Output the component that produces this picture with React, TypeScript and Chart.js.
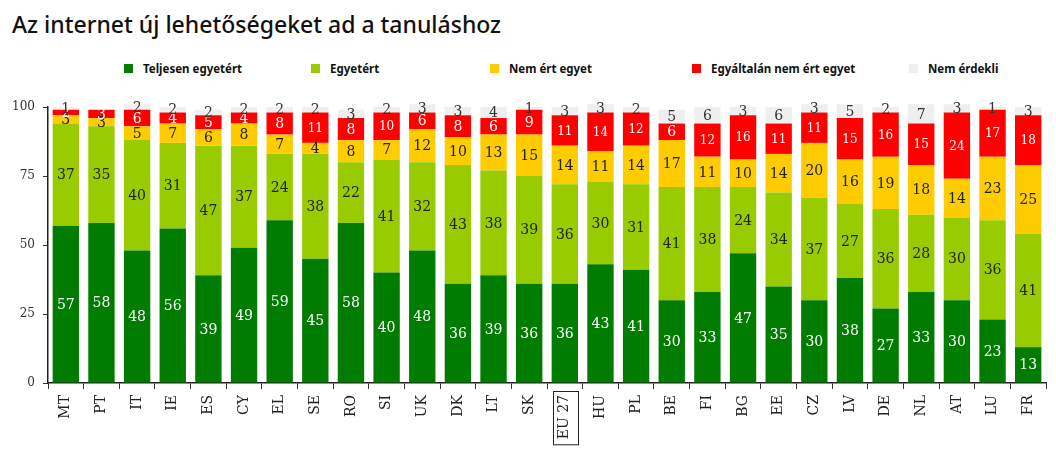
import React, { useEffect, useRef } from 'react';
import { Chart, registerables } from 'chart.js';

Chart.register(...registerables);

const categories = ['MT', 'PT', 'IT', 'IE', 'ES', 'CY', 'EL', 'SE', 'RO', 'SI', 'UK', 'DK', 'LT', 'SK', 'EU 27', 'HU', 'PL', 'BE', 'FI', 'BG', 'EE', 'CZ', 'LV', 'DE', 'NL', 'AT', 'LU', 'FR'];
const teljesen = [57, 58, 48, 56, 39, 49, 59, 45, 58, 40, 48, 36, 39, 36, 36, 43, 41, 30, 33, 47, 35, 30, 38, 27, 33, 30, 23, 13];
const egyetert = [37, 35, 40, 31, 47, 37, 24, 38, 22, 41, 32, 43, 38, 39, 36, 30, 31, 41, 38, 24, 34, 37, 27, 36, 28, 30, 36, 41];
const nemErt = [3, 3, 5, 7, 6, 8, 7, 4, 8, 7, 12, 10, 13, 15, 14, 11, 14, 17, 11, 10, 14, 20, 16, 19, 18, 14, 23, 25];
const egyaltalan = [2, 3, 6, 4, 5, 4, 8, 11, 8, 10, 6, 8, 6, 9, 11, 14, 12, 6, 12, 16, 11, 11, 15, 16, 15, 24, 17, 18];
const nemErdekli = [1, 0, 2, 2, 2, 2, 2, 2, 3, 2, 3, 3, 4, 1, 3, 3, 2, 5, 6, 3, 6, 3, 5, 2, 7, 3, 1, 3];
const seriesNames = ['Teljesen egyetért', 'Egyetért', 'Nem ért egyet', 'Egyáltalán nem ért egyet', 'Nem érdekli'];
const seriesColors = ['#007d00', '#99cc00', '#ffcc00', '#ff0000', '#efefef'];
const labelColors = ['#ffffff', '#222222', '#222222', '#ffffff', '#333333'];
const highlighted = 'EU 27';
const title = 'Az internet új lehetőségeket ad a tanuláshoz';

const legendX = [124, 311, 490, 692, 909];

const SERIF = "'DejaVu Serif', 'Liberation Serif', serif";

const labelPlugin = {
  id: 'segLabels',
  afterDatasetsDraw(chart: any) {
    const ctx = chart.ctx;
    ctx.save();
    ctx.textAlign = 'center';
    ctx.textBaseline = 'middle';
    chart.data.datasets.forEach((ds: any, i: number) => {
      const meta = chart.getDatasetMeta(i);
      meta.data.forEach((el: any, j: number) => {
        const v = ds.data[j];
        if (!v) return;
        const small = v >= 10 && i === 3;
        ctx.font = (small ? '12px ' : '14px ') + SERIF;
        ctx.fillStyle = labelColors[i];
        const cy = (el.y + el.base) / 2;
        ctx.fillText(String(v), el.x, cy + 1);
      });
    });
    ctx.restore();
  },
};

const boxPlugin = {
  id: 'hlBox',
  afterDraw(chart: any) {
    const xs = chart.scales.x;
    const idx = categories.indexOf(highlighted);
    if (idx < 0) return;
    const ctx = chart.ctx;
    const x = xs.getPixelForValue(idx);
    ctx.save();
    ctx.font = '14px ' + SERIF;
    const w = ctx.measureText(highlighted).width;
    const top = xs.top + 8;
    ctx.strokeStyle = '#222';
    ctx.lineWidth = 1;
    ctx.strokeRect(Math.round(x - 12) + 0.5, top + 0.5, 25, w + 9);
    ctx.restore();
  },
};

export default function App() {
  const ref = useRef<HTMLCanvasElement>(null);
  useEffect(() => {
    if (!ref.current) return;
    const data = [teljesen, egyetert, nemErt, egyaltalan, nemErdekli];
    const chart = new Chart(ref.current, {
      type: 'bar',
      data: {
        labels: categories,
        datasets: data.map((d, i) => ({
          label: seriesNames[i],
          data: d,
          backgroundColor: seriesColors[i],
          borderWidth: 0,
          categoryPercentage: 1,
          barPercentage: 0.74,
          clip: false as any,
        })),
      },
      options: {
        animation: false,
        responsive: false,
        maintainAspectRatio: false,
        layout: { padding: { top: 107, left: 0, right: 10, bottom: 0 } },
        plugins: {
          legend: { display: false },
          title: { display: false },
          tooltip: { enabled: false },
        },
        scales: {
          x: {
            stacked: true,
            offset: true,
            grid: { display: true, offset: true, drawOnChartArea: false, drawTicks: true, tickLength: 6, color: '#333' },
            border: { display: true, color: '#222', width: 1.5 },
            ticks: {
              autoSkip: false,
              maxRotation: 90,
              minRotation: 90,
              padding: 6,
              color: '#222',
              font: { family: SERIF, size: 14 },
            },
            afterFit(scale: any) { scale.height = 459 - 383; },
          },
          y: {
            stacked: true,
            min: 0,
            max: 100,
            ticks: {
              stepSize: 25,
              padding: 8,
              color: '#333',
              font: { family: SERIF, size: 12 },
            },
            grid: { display: true, drawOnChartArea: false, drawTicks: true, tickLength: 5, color: '#333' },
            border: { display: true, color: '#222', width: 1.5 },
            afterFit(scale: any) { scale.width = 48; },
          },
        },
      },
      plugins: [labelPlugin, boxPlugin],
    });
    return () => chart.destroy();
  }, []);

  return (
    <div style={{ position: 'fixed', left: 0, top: 0, width: 1056, height: 459, background: '#fff', overflow: 'hidden' }}>
      <div style={{ position: 'absolute', left: 12, top: 8, fontFamily: "'Noto Sans', sans-serif", fontSize: 23, fontWeight: 500, color: '#111', whiteSpace: 'nowrap', lineHeight: '32px' }}>
        {title}
      </div>
      {seriesNames.map((n, i) => (
        <div key={n} style={{ position: 'absolute', left: legendX[i], top: 61, height: 14, display: 'flex', alignItems: 'center', whiteSpace: 'nowrap' }}>
          <span style={{ display: 'inline-block', width: 9, height: 9, background: seriesColors[i], marginRight: 10 }} />
          <span style={{ fontFamily: "'Noto Sans', sans-serif", fontSize: 11.5, fontWeight: 700, color: '#111' }}>{n}</span>
        </div>
      ))}
      <canvas ref={ref} width={1056} height={459} style={{ position: 'absolute', left: 0, top: 0 }} />
    </div>
  );
}
